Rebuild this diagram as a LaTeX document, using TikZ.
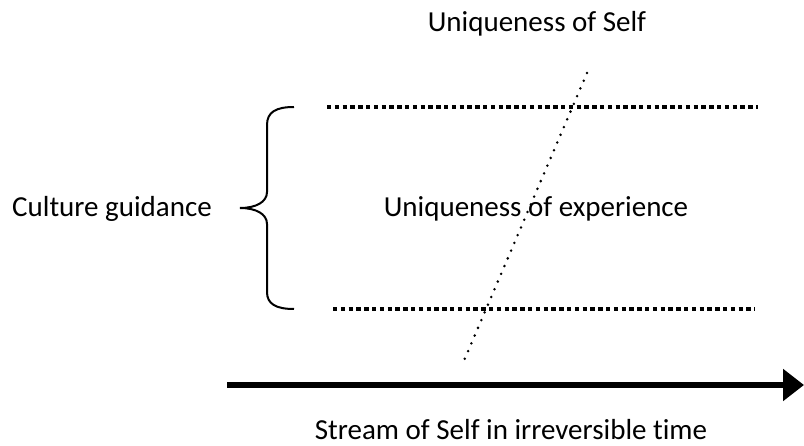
\documentclass[tikz,border=0pt]{standalone}
\usepackage{fontspec}
\setmainfont[Ligatures=NoCommon]{Carlito}
\usetikzlibrary{arrows.meta}
\tikzset{
  lbl/.style={anchor=base, inner sep=0pt, font=\fontsize{29}{34}\selectfont},
  bandline/.style={line width=4.6pt, dash pattern=on 4.4pt off 3.4pt},
  selfline/.style={line width=2.8pt, line cap=round, dash pattern=on 0pt off 8.4pt},
}
\begin{document}
\begin{tikzpicture}[x=1pt, y=-1pt]
\useasboundingbox (0,0) rectangle (804,446);
\node[lbl] (SelfU) at (537,32) {Uniqueness of Self};
\node[lbl] (Cult) at (112,217) {Culture guidance};
\node[lbl] (ExpU) at (536,217) {Uniqueness of experience};
\node[lbl] (Stream) at (511,440) {Stream of Self in irreversible time};
\coordinate (T1) at (327,107);
\coordinate (T2) at (758,107);
\coordinate (B1) at (333,309);
\coordinate (B2) at (755,309);
\coordinate (S1) at (587,73);
\coordinate (S2) at (463,363);
\coordinate (Tip) at (240,208);
\coordinate (A1) at (227,385);
\coordinate (A2) at (804,385);
\draw[bandline] (T1) -- (T2);
\draw[bandline] (B1) -- (B2);
\draw[selfline] (S1) -- (S2);
\draw[line width=2pt] (294,107) .. controls (276,107) and (267,112) .. (267,125) -- (267,192) .. controls (267,202) and (256,208) .. (Tip) .. controls (256,208) and (267,214) .. (267,224) -- (267,292) .. controls (267,304) and (276,309) .. (294,309);
\draw[line width=6pt, -{Triangle[length=21pt, width=31pt]}] (A1) -- (A2);
\end{tikzpicture}
\end{document}
